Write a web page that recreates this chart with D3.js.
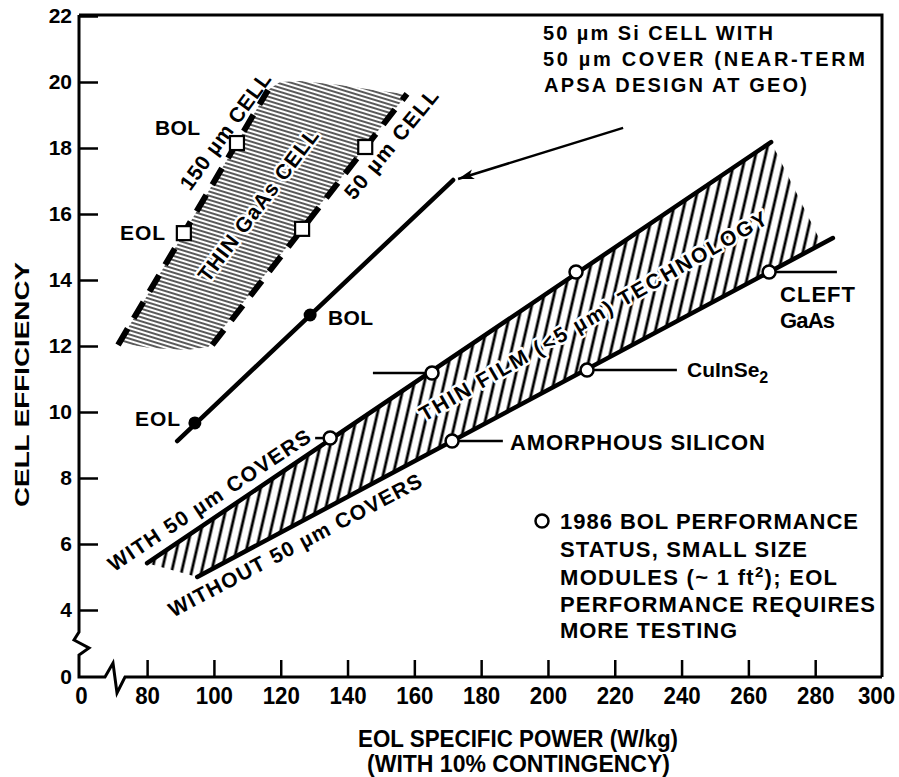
<!DOCTYPE html>
<html><head><meta charset="utf-8">
<script src="https://cdn.jsdelivr.net/npm/d3@7"></script>
<style>
html,body{margin:0;padding:0;background:#fff;}
svg{display:block;background:#fff;}
text{font-family:"Liberation Sans",Arial,Helvetica,sans-serif;font-weight:bold;fill:#000;}
</style></head><body>
<svg id="chart" width="899" height="777"></svg>
<script>
// ---------- DATA ----------
const xTickValues = [0, 80, 100, 120, 140, 160, 180, 200, 220, 240, 260, 280, 300];
const yTickValues = [0, 4, 6, 8, 10, 12, 14, 16, 18, 20, 22];

// 50 um Si cell with 50 um cover (near-term APSA at GEO)
const siLineX = [89.0, 171.6];
const siLineY = [9.12, 17.03];
const siPointX = [94.3, 128.8];
const siPointY = [9.67, 12.94];
const siPointLabels = ["EOL", "BOL"];
const siArrowX = [222.5, 173.1];
const siArrowY = [18.61, 17.06];

// Thin film (<5 um) technology band
const withCoversX = [80.0, 266.8];
const withCoversY = [5.42, 18.18];
const withoutCoversX = [95.0, 285.3];
const withoutCoversY = [5.0, 15.27];
const filmHatchEndX = 282.0;
const withCoverPointX = [134.8, 165.3, 208.4];
const withCoverPointY = [9.21, 11.18, 14.24];
const withoutCoverPointX = [171.3, 211.7, 266.2];
const withoutCoverPointY = [9.12, 11.27, 14.24];
const withoutCoverPointNames = ["AMORPHOUS SILICON", "CuInSe2", "CLEFT GaAs"];
const withCoverLeaderEndX = [130.3, 147.6];
const withoutCoverLeaderEndX = [186.5, 238.6, 286.5];

// Thin GaAs cell band
const cell150X = [71.3, 116.2];
const cell150Y = [12.03, 19.76];
const cell50X = [99.5, 157.8];
const cell50Y = [12.03, 19.64];
const cell150SquareX = [91.0, 106.9];
const cell150SquareY = [15.42, 18.15];
const cell50SquareX = [126.4, 145.3];
const cell50SquareY = [15.55, 18.03];
const gaasTopX = [116.2, 119.8, 125.8, 137.7, 149.7, 157.8];
const gaasTopY = [19.76, 20.0, 20.03, 19.91, 19.73, 19.64];
const gaasBottomX = [99.5, 98.3, 92.0, 80.9, 71.9, 71.3];
const gaasBottomY = [12.03, 11.97, 11.88, 11.94, 12.09, 12.03];

// ---------- SETUP ----------
const svg = d3.select("#chart");
const x = d3.scaleLinear().domain([0, 65, 300]).range([79, 97, 882]);
const y = d3.scaleLinear().domain([0, 4, 22]).range([677, 610, 16]);
const zip = (xs, ys) => xs.map((v, i) => [v, ys[i]]);
const line = d3.line().x(d => x(d[0])).y(d => y(d[1]));

const defs = svg.append("defs");
defs.append("pattern").attr("id", "hatchGaAs").attr("patternUnits", "userSpaceOnUse")
  .attr("width", 8).attr("height", 4).attr("patternTransform", "rotate(17)")
  .append("line").attr("x1", 0).attr("y1", 2).attr("x2", 8).attr("y2", 2)
  .attr("stroke", "#000").attr("stroke-width", 1.3);
defs.append("pattern").attr("id", "hatchFilm").attr("patternUnits", "userSpaceOnUse")
  .attr("width", 9.7).attr("height", 10).attr("patternTransform", "rotate(13)")
  .append("line").attr("x1", 4.85).attr("y1", 0).attr("x2", 4.85).attr("y2", 10)
  .attr("stroke", "#000").attr("stroke-width", 2.8);
defs.append("marker").attr("id", "arrowHead").attr("markerUnits", "userSpaceOnUse")
  .attr("viewBox", "0 -6 16 12").attr("refX", 16).attr("refY", 0)
  .attr("markerWidth", 16).attr("markerHeight", 12).attr("orient", "auto")
  .append("path").attr("d", "M0,-5L16,0L0,5L4,0Z").attr("fill", "#000");

// ---------- FRAME & AXES ----------
const x0 = x(0), y0 = y(0), yTop = 15, xRight = x(300);
const frame = d3.path();
frame.moveTo(x0, yTop); frame.lineTo(xRight, yTop); frame.lineTo(xRight, y0);
frame.moveTo(x0, yTop); frame.lineTo(x0, y0 - 45); frame.lineTo(x0 - 5, y0 - 37);
frame.lineTo(x0 + 10, y0 - 29); frame.lineTo(x0, y0 - 22); frame.lineTo(x0, y0);
frame.lineTo(x0 + 26, y0); frame.lineTo(x0 + 34, y0 - 14); frame.lineTo(x0 + 38, y0 + 16);
frame.lineTo(x0 + 46, y0); frame.lineTo(xRight, y0);
svg.append("path").attr("d", frame.toString()).attr("fill", "none")
  .attr("stroke", "#000").attr("stroke-width", 3).attr("stroke-linejoin", "miter");

const gx = svg.append("g").attr("transform", `translate(0,${y0})`)
  .call(d3.axisBottom(x).tickValues(xTickValues).tickSize(-17).tickPadding(10).tickFormat(d3.format("d")));
gx.select(".domain").remove();
gx.attr("font-size", null).attr("font-family", null);
gx.selectAll(".tick line").attr("stroke-width", 2.5).filter(d => d === 0 || d === 300).remove();
gx.selectAll(".tick text").attr("font-size", 24)
  .attr("textLength", d => String(d).length * 12.4).attr("lengthAdjust", "spacingAndGlyphs");
gx.selectAll(".tick text").filter(d => d === 300).attr("dx", -6);
gx.selectAll(".tick text").filter(d => d === 0).attr("dx", 2);

const gy = svg.append("g").attr("transform", `translate(${x0},0)`)
  .call(d3.axisLeft(y).tickValues(yTickValues).tickSize(-19).tickPadding(7));
gy.select(".domain").remove();
gy.attr("font-size", null).attr("font-family", null);
gy.selectAll(".tick line").attr("stroke-width", 2.5).filter(d => d === 0).remove();
gy.selectAll(".tick text").attr("font-size", 21);

svg.append("text").attr("transform", "translate(21,384.5) rotate(-90)")
  .attr("text-anchor", "middle").attr("dy", "0.36em").attr("font-size", 21)
  .attr("textLength", 245).attr("lengthAdjust", "spacingAndGlyphs").text("CELL EFFICIENCY");
svg.append("text").attr("x", 518).attr("y", 747).attr("text-anchor", "middle").attr("font-size", 23)
  .attr("textLength", 320).attr("lengthAdjust", "spacingAndGlyphs").text("EOL SPECIFIC POWER (W/kg)");
svg.append("text").attr("x", 518.5).attr("y", 772).attr("text-anchor", "middle").attr("font-size", 23)
  .attr("textLength", 303).attr("lengthAdjust", "spacingAndGlyphs").text("(WITH 10% CONTINGENCY)");

// ---------- THIN GaAs BAND ----------
const gaasPoly = zip(cell150X, cell150Y).concat(zip(gaasTopX, gaasTopY).slice(1), zip(gaasBottomX, gaasBottomY).slice(1));
svg.append("path").attr("d", line(gaasPoly) + "Z").attr("fill", "url(#hatchGaAs)").attr("stroke", "none");
[[cell150X, cell150Y], [cell50X, cell50Y]].forEach(([xs, ys]) => {
  svg.append("path").attr("d", line(zip(xs, ys))).attr("fill", "none")
    .attr("stroke", "#000").attr("stroke-width", 6).attr("stroke-dasharray", "19,12");
});
svg.selectAll("rect.sq").data(zip(cell150SquareX, cell150SquareY).concat(zip(cell50SquareX, cell50SquareY)))
  .join("rect").attr("class", "sq")
  .attr("x", d => x(d[0]) - 7).attr("y", d => y(d[1]) - 7).attr("width", 14).attr("height", 14)
  .attr("fill", "#fff").attr("stroke", "#000").attr("stroke-width", 2.2);

// ---------- THIN FILM BAND ----------
const lowerAt = xv => withoutCoversY[0] + (xv - withoutCoversX[0]) *
  (withoutCoversY[1] - withoutCoversY[0]) / (withoutCoversX[1] - withoutCoversX[0]);
const filmPoly = [[withCoversX[0], withCoversY[0]], [withCoversX[1], withCoversY[1]],
  [filmHatchEndX, lowerAt(filmHatchEndX)], [withoutCoversX[0], withoutCoversY[0]]];
svg.append("path").attr("d", line(filmPoly) + "Z").attr("fill", "url(#hatchFilm)").attr("stroke", "none");
[[withCoversX, withCoversY], [withoutCoversX, withoutCoversY]].forEach(([xs, ys]) => {
  svg.append("path").attr("d", line(zip(xs, ys))).attr("fill", "none")
    .attr("stroke", "#000").attr("stroke-width", 4.5).attr("stroke-linecap", "round");
});
// leader lines
withCoverLeaderEndX.forEach((xe, i) => {
  svg.append("line").attr("x1", x(xe)).attr("y1", y(withCoverPointY[i]))
    .attr("x2", x(withCoverPointX[i])).attr("y2", y(withCoverPointY[i]))
    .attr("stroke", "#000").attr("stroke-width", 2.5);
});
withoutCoverLeaderEndX.forEach((xe, i) => {
  svg.append("line").attr("x1", x(withoutCoverPointX[i])).attr("y1", y(withoutCoverPointY[i]))
    .attr("x2", x(xe)).attr("y2", y(withoutCoverPointY[i]))
    .attr("stroke", "#000").attr("stroke-width", 2.5);
});

// ---------- Si LINE ----------
svg.append("path").attr("d", line(zip(siLineX, siLineY))).attr("fill", "none")
  .attr("stroke", "#000").attr("stroke-width", 4.5).attr("stroke-linecap", "round");
svg.selectAll("circle.si").data(zip(siPointX, siPointY)).join("circle").attr("class", "si")
  .attr("cx", d => x(d[0])).attr("cy", d => y(d[1])).attr("r", 6.5).attr("fill", "#000");
svg.append("path").attr("d", line(zip(siArrowX, siArrowY))).attr("fill", "none")
  .attr("stroke", "#000").attr("stroke-width", 2.5).attr("marker-end", "url(#arrowHead)");

// ---------- OPEN CIRCLES ----------
svg.selectAll("circle.bol").data(zip(withCoverPointX, withCoverPointY).concat(zip(withoutCoverPointX, withoutCoverPointY)))
  .join("circle").attr("class", "bol")
  .attr("cx", d => x(d[0])).attr("cy", d => y(d[1])).attr("r", 6.5)
  .attr("fill", "#fff").attr("stroke", "#000").attr("stroke-width", 2.5);

// ---------- TEXT ----------
function label(txt, px, py, size, len, anchor) {
  const t = svg.append("text").attr("x", px).attr("y", py).attr("font-size", size)
    .attr("text-anchor", anchor || "start").text(txt);
  if (len) t.attr("textLength", len).attr("lengthAdjust", "spacing");
  return t;
}
function rotLabel(txt, cx, cy, angle, len, size, halo) {
  const t = svg.append("text").attr("transform", `translate(${cx},${cy}) rotate(${-angle})`)
    .attr("text-anchor", "middle").attr("dy", "0.36em").attr("font-size", size)
    .attr("textLength", len).attr("lengthAdjust", "spacing").text(txt);
  if (halo) t.attr("stroke", "#fff").attr("stroke-width", 5).attr("paint-order", "stroke").attr("stroke-linejoin", "round");
  return t;
}

label("50 µm Si CELL WITH", 543, 40, 20, 230);
label("50 µm COVER (NEAR-TERM", 543, 66, 20, 322);
label("APSA DESIGN AT GEO)", 544, 92, 20, 263);

label("BOL", 155, 135, 21, 45);
label("EOL", 120, 240, 21, 45);
rotLabel("150 µm CELL", 225, 131, 54, 139, 21, false);
rotLabel("THIN GaAs CELL", 258, 205, 53, 185, 21, true);
rotLabel("50 µm CELL", 391, 144, 50.5, 135, 21, false);

label(siPointLabels[1], 328, 325, 21, 45);
label(siPointLabels[0], 135, 426, 21, 45);

rotLabel("WITH 50 µm COVERS", 209, 500, 33.6, 238, 21, true);
rotLabel("WITHOUT 50 µm COVERS", 295, 545, 27.8, 283, 21, false);
rotLabel("THIN FILM (<5 µm) TECHNOLOGY", 593, 316, 30, 398, 21, true);

label("CLEFT", 780, 302, 22, 75);
label("GaAs", 780, 328, 22, 55);
const cis = svg.append("text").attr("x", 687).attr("y", 377).attr("font-size", 21);
cis.append("tspan").text("CuInSe");
cis.append("tspan").attr("font-size", 16).attr("dy", 6).text("2");
label("AMORPHOUS SILICON", 510, 450, 22, 255);

svg.append("circle").attr("cx", 542).attr("cy", 521).attr("r", 6.5)
  .attr("fill", "#fff").attr("stroke", "#000").attr("stroke-width", 2.5);
label("1986 BOL PERFORMANCE", 560, 529, 22, 298);
label("STATUS, SMALL SIZE", 560, 557, 22, 247);
const mod = svg.append("text").attr("x", 560).attr("y", 585).attr("font-size", 22).attr("letter-spacing", 1.3);
mod.append("tspan").text("MODULES (~ 1 ft");
mod.append("tspan").attr("font-size", 15).attr("dy", -8).text("2");
mod.append("tspan").attr("dy", 8).text("); EOL");
label("PERFORMANCE REQUIRES", 560, 612, 22, 315);
label("MORE TESTING", 560, 638, 22, 177);
</script>
</body></html>
